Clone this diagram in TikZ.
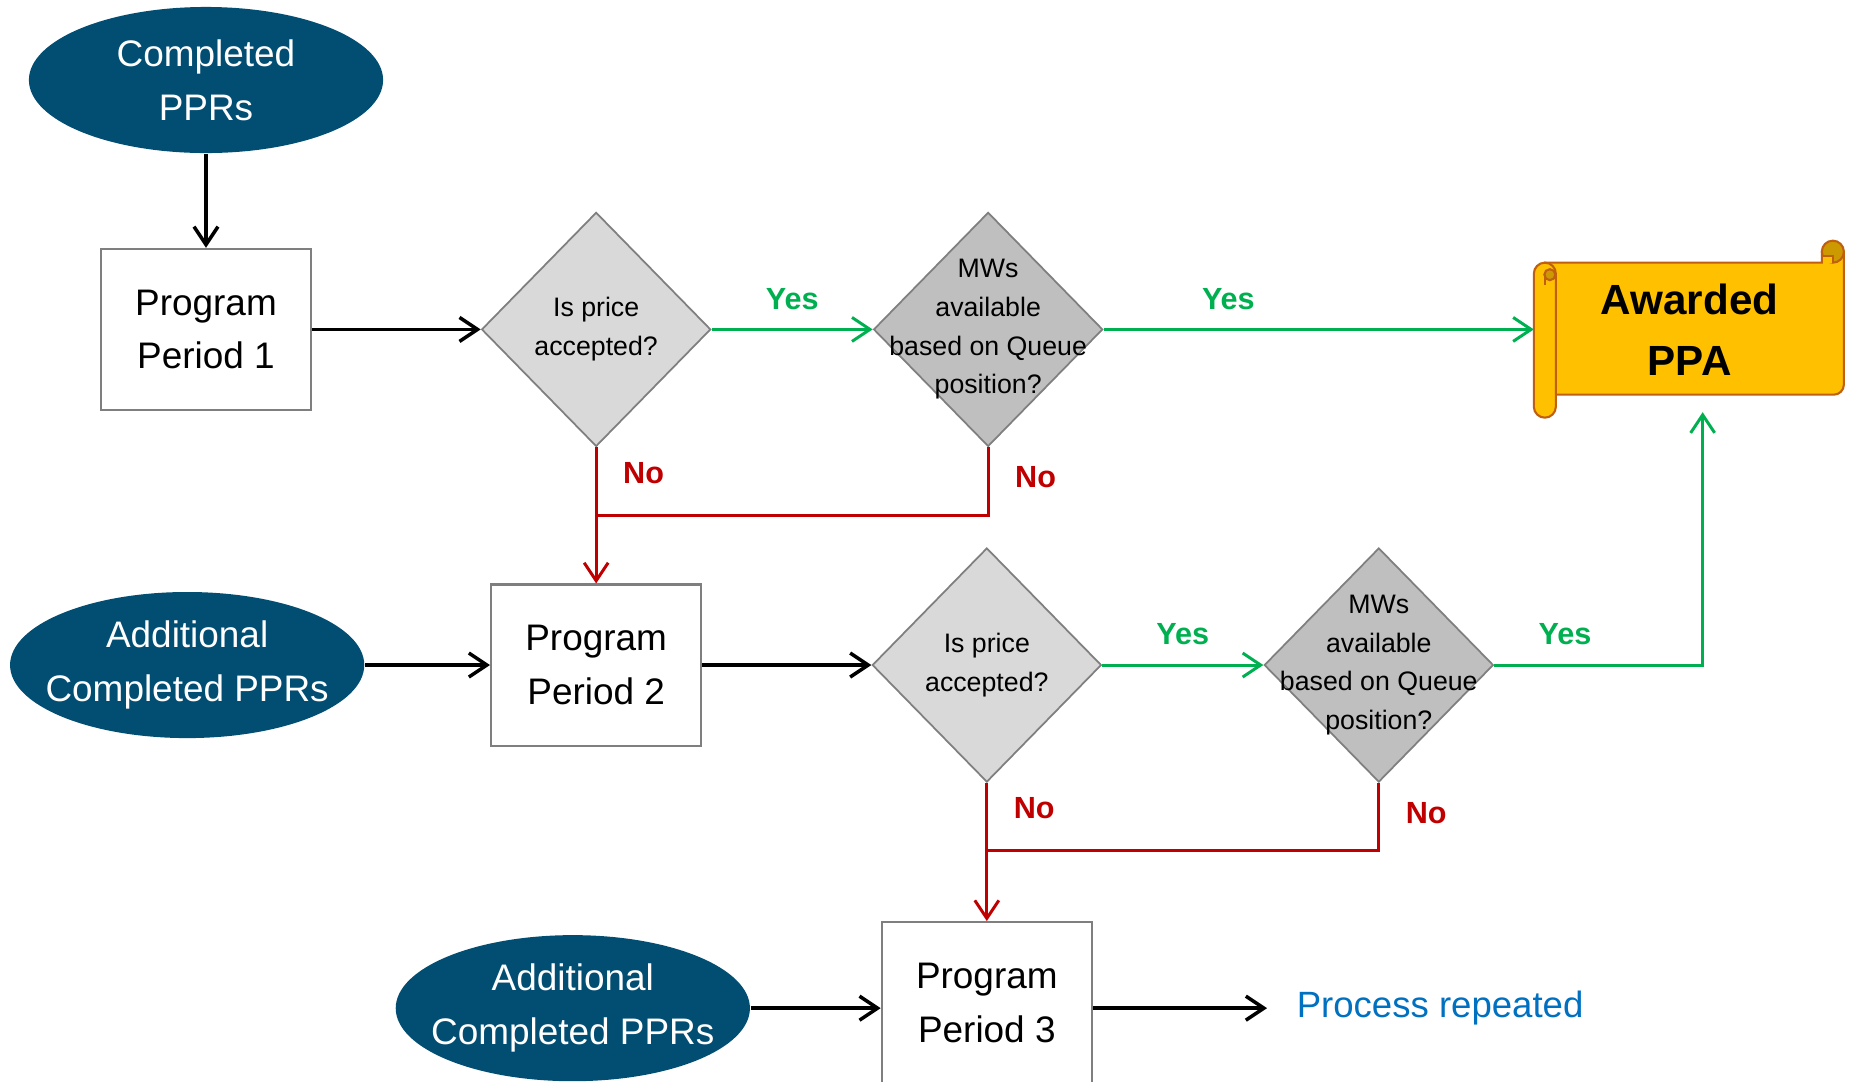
\documentclass[tikz,border=0pt]{standalone}
\usepackage{fontspec}
\setmainfont{Liberation Sans}
\usetikzlibrary{shapes.geometric, arrows.meta, positioning, calc, backgrounds}
\definecolor{pprblue}{HTML}{024E73}
\definecolor{lightgrey}{HTML}{D9D9D9}
\definecolor{midgrey}{HTML}{BFBFBF}
\definecolor{edgegrey}{HTML}{7F7F7F}
\definecolor{yesgreen}{HTML}{00B050}
\definecolor{nored}{HTML}{C00000}
\definecolor{scrollgold}{HTML}{FFC000}
\definecolor{scrolldark}{HTML}{CC9A00}
\definecolor{scrolledge}{HTML}{C0600F}
\definecolor{repblue}{HTML}{0070C0}

\begin{document}
\begin{tikzpicture}[x=0.01cm, y=-0.01cm,
  source/.style={ellipse, fill=pprblue, minimum width=3.54cm, minimum height=1.46cm},
  sourcetext/.style={text=white, align=center, font=\fontsize{10.5}{15.3}\selectfont},
  period/.style={rectangle, draw=edgegrey, line width=0.6pt, fill=white, minimum width=2.10cm, minimum height=1.61cm, align=center, font=\fontsize{10.5}{15.3}\selectfont},
  pricecheck/.style={diamond, draw=edgegrey, line width=0.5pt, fill=lightgrey, minimum width=2.29cm, minimum height=2.34cm, inner sep=0pt},
  queuecheck/.style={pricecheck, fill=midgrey},
  asktext/.style={align=center, font=\fontsize{7.6}{11}\selectfont},
  yeslabel/.style={text=yesgreen, font=\bfseries\fontsize{8.7}{10}\selectfont, inner sep=1pt},
  nolabel/.style={text=nored, font=\bfseries\fontsize{8.7}{10}\selectfont, inner sep=1pt},
  arrow/.style={-{Straight Barb[length=1.8mm, width=2.4mm]}, line width=1pt},
  yesarrow/.style={arrow, draw=yesgreen, line width=0.85pt},
  noarrow/.style={arrow, draw=nored, line width=0.85pt},
  noline/.style={draw=nored, line width=0.85pt},
  scroll/.style={draw=scrolledge, fill=scrollgold, line width=0.6pt},
  award/.style={rectangle, minimum width=3.10cm, minimum height=1.32cm, align=center, font=\bfseries\fontsize{12}{17.4}\selectfont},
  again/.style={text=repblue, inner sep=0pt, font=\fontsize{10.4}{12}\selectfont}
]
  \useasboundingbox (0,0) rectangle (1854,1081);

  \node[source] (e1) at (206,80) {};
  \node[sourcetext] (e1txt) at (e1) {Completed\\PPRs};
  \node[period, below=0.94cm of e1] (b1) {Program\\Period 1};
  \node[pricecheck, right=1.685cm of b1] (d1) {};
  \node[asktext] (d1txt) at (d1) {Is price\\accepted?};
  \node[queuecheck, right=1.61cm of d1] (d2) {};
  \node[asktext] (d2txt) at (d2) {MWs\\available\\based on Queue\\position?};
  \node[award, right=4.30cm of d2] (ppa) {Awarded\\PPA};

  \node[period, below=1.36cm of d1] (b2) {Program\\Period 2};
  \node[source, left=1.25cm of b2] (e2) {};
  \node[sourcetext] (e2txt) at (e2) {Additional\\Completed PPRs};
  \node[pricecheck, right=1.69cm of b2] (d3) {};
  \node[asktext] (d3txt) at (d3) {Is price\\accepted?};
  \node[queuecheck, right=1.61cm of d3] (d4) {};
  \node[asktext] (d4txt) at (d4) {MWs\\available\\based on Queue\\position?};

  \node[period, below=1.38cm of d3] (b3) {Program\\Period 3};
  \node[source, left=1.30cm of b3, yshift=-0.055cm] (e3) {};
  \node[sourcetext] (e3txt) at (e3) {Additional\\Completed PPRs};
  \node[again, right=2.03cm of b3, yshift=-0.055cm] (rep) {Process repeated};

  \begin{scope}[on background layer, shift={(ppa.north west)}]
    \draw[scroll] (11,0) -- (288,0) -- (288,-11) -- (310,-11) [rounded corners=0.1cm] -- (310,132) -- (11,132) [sharp corners] -- cycle;
    \filldraw[scroll, fill=scrolldark] (299,-11) circle[radius=0.11cm];
    \filldraw[scroll] (288,0) -- (288,-7) -- (299,-7) -- (299,0);
    \draw[scroll, rounded corners=0.11cm] (0,0) rectangle (22,155);
    \filldraw[scroll, fill=scrolldark] (16,12) circle[radius=0.055cm];
    \draw[draw=scrolledge, line width=0.6pt] (11,12) -- (11,22);
  \end{scope}

  \coordinate (j1) at ($(d1.south)!0.5!(b2.north)$);
  \coordinate (j2) at ($(d3.south)!0.49!(b3.north)$);
  \coordinate (ppain) at ($(ppa.south)+(13,16)$);

  \draw[arrow] (e1) -- (b1);
  \draw[arrow] (b1) -- (d1);
  \draw[yesarrow] (d1) -- node[yeslabel, above=0.15cm] {Yes} (d2);
  \draw[yesarrow] (d2) -- node[yeslabel, above=0.15cm, pos=0.29] {Yes} (ppa);
  \draw[noarrow] (d1) -- node[nolabel, right=0.22cm, pos=0.19] {No} (b2);
  \draw[noline] (d2) |- node[nolabel, right=0.22cm, pos=0.22] {No} (j1);
  \draw[arrow] (e2) -- (b2);
  \draw[arrow] (b2) -- (d3);
  \draw[yesarrow] (d3) -- node[yeslabel, above=0.15cm] {Yes} (d4);
  \draw[yesarrow] (d4) -| node[yeslabel, above=0.15cm, pos=0.17] {Yes} (ppain);
  \draw[noarrow] (d3) -- node[nolabel, right=0.22cm, pos=0.18] {No} (b3);
  \draw[noline] (d4) |- node[nolabel, right=0.22cm, pos=0.22] {No} (j2);
  \draw[arrow] (e3) -- (e3 -| b3.west);
  \draw[arrow] (e3 -| b3.east) -- ([xshift=-0.29cm]rep.west);
\end{tikzpicture}
\end{document}
